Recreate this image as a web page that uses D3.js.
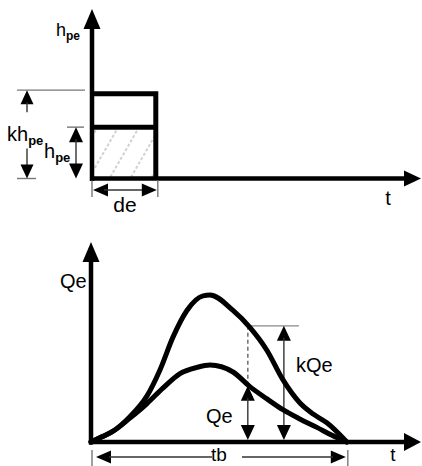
<!DOCTYPE html>
<html><head><meta charset="utf-8">
<script src="https://cdn.jsdelivr.net/npm/d3@7/dist/d3.min.js"></script>
<style>html,body{margin:0;padding:0;background:#fff;}svg{display:block;}text{font-family:"Liberation Sans",Arial,sans-serif;fill:#000;}</style>
</head><body>
<script>
// ---- Data ----
// Top panel: effective rainfall hyetograph (units: de = 1, hpe = 1)
const rainDuration = 1;      // de
const rainDepth = 1;         // hpe
const rainFactor = 1.72;     // k
const topTimeMax = 5;        // axis extent
const topDepthMax = 3.3;

// Bottom panel: hydrographs (t in units where tb = 10, Q where Qe peak = 1)
const hydroT  = [0, 0.45, 0.86, 1.52, 2.19, 2.81, 3.48, 4.14, 4.65, 5.55, 6.21, 6.88, 7.5, 8.16, 8.83, 9.4, 10];
const qeVals  = [0, 0.07, 0.14, 0.31, 0.50, 0.70, 0.89, 0.97, 1.00, 0.91, 0.72, 0.56, 0.42, 0.30, 0.19, 0.09, 0];
const kqeT    = [0, 0.45, 0.86, 1.52, 2.19, 2.7, 3.2, 3.75, 4.38, 4.65, 5.55, 6.21, 6.88, 7.5, 8.16, 8.7, 9.22, 10];
const kqeVals = [0, 0.07, 0.14, 0.33, 0.60, 0.94, 1.36, 1.71, 1.90, 1.91, 1.71, 1.49, 1.19, 0.81, 0.51, 0.36, 0.25, 0];
const tbVal = 10;
const markT = 6.13;          // where Qe and k*Qe are marked (dashed)
const kArrowT = 7.54;
const kQeLevel = 1.51;
const qeAtMark = 0.73;
const botTimeMax = 12.9;
const botQMax = 2.6;

const labels = {hpe:"h", sub:"pe", khpe:"kh", de:"de", t:"t", qe:"Qe", kqe:"kQe", tb:"tb"};

// ---- Drawing ----
const W = 422, H = 466;
const svg = d3.select("body").append("svg").attr("width", W).attr("height", H);
const defs = svg.append("defs");
const pat = defs.append("pattern").attr("id","hatch").attr("patternUnits","userSpaceOnUse")
  .attr("width",18).attr("height",30).attr("patternTransform","rotate(30)");
pat.append("line").attr("x1",4).attr("y1",0).attr("x2",4).attr("y2",30)
  .attr("stroke","#9a9a9a").attr("stroke-width",0.9).attr("stroke-dasharray","3,2");

// scales
const xT = d3.scaleLinear().domain([0, topTimeMax]).range([92, 421]);
const yT = d3.scaleLinear().domain([0, topDepthMax]).range([178.5, 9]);
const xB = d3.scaleLinear().domain([0, botTimeMax]).range([91, 421]);
const yB = d3.scaleLinear().domain([0, botQMax]).range([442, 242]);

function arrowHead(g, x, y, dir, len, wid) {
  let pts;
  if (dir === "up") pts = [[x,y],[x-wid/2,y+len],[x+wid/2,y+len]];
  if (dir === "down") pts = [[x,y],[x-wid/2,y-len],[x+wid/2,y-len]];
  if (dir === "left") pts = [[x,y],[x+len,y-wid/2],[x+len,y+wid/2]];
  if (dir === "right") pts = [[x,y],[x-len,y-wid/2],[x-len,y+wid/2]];
  g.append("path").attr("d", d3.line()(pts) + "Z").attr("fill","#000");
}
function thin(g, x1, y1, x2, y2, col, w, dash) {
  const l = g.append("line").attr("x1",x1).attr("y1",y1).attr("x2",x2).attr("y2",y2)
    .attr("stroke", col || "#111").attr("stroke-width", w || 1.4);
  if (dash) l.attr("stroke-dasharray", dash);
  return l;
}
function subLabel(g, x, y, main, sub, size, subSize, anchor) {
  const t = g.append("text").attr("x",x).attr("y",y).attr("font-size",size);
  if (anchor) t.attr("text-anchor", anchor);
  t.append("tspan").text(main);
  t.append("tspan").attr("dy",4).attr("font-size",subSize).attr("font-weight","bold").text(sub);
}

// ===== TOP PANEL =====
const gTop = svg.append("g");
const x0 = xT(0), y0 = yT(0);
gTop.append("rect").attr("x", x0).attr("y", yT(rainDepth)).attr("width", xT(rainDuration)-x0)
  .attr("height", y0 - yT(rainDepth)).attr("fill","url(#hatch)");
const kTopY = yT(rainFactor) + 3.5;
gTop.append("path").attr("d", d3.line()([[x0, kTopY],[xT(rainDuration)-2, kTopY],[xT(rainDuration)-2, y0]]))
  .attr("fill","none").attr("stroke","#000").attr("stroke-width",5);
gTop.append("line").attr("x1",x0).attr("x2",xT(rainDuration)-2).attr("y1",yT(rainDepth)).attr("y2",yT(rainDepth))
  .attr("stroke","#000").attr("stroke-width",5);
gTop.append("line").attr("x1",x0).attr("x2",x0).attr("y1",y0+2.5).attr("y2",yT(topDepthMax)+16)
  .attr("stroke","#000").attr("stroke-width",4.5);
arrowHead(gTop, x0, yT(topDepthMax), "up", 20, 17);
gTop.append("line").attr("x1",x0-2).attr("x2",xT(topTimeMax)-16).attr("y1",y0).attr("y2",y0)
  .attr("stroke","#000").attr("stroke-width",4.5);
arrowHead(gTop, xT(topTimeMax), y0, "right", 17, 16);

// k*hpe dimension
const kx = 27;
thin(gTop, 17, yT(rainFactor), 85, yT(rainFactor), "#777", 1.4);
thin(gTop, 17, y0, 36, y0, "#777", 1.4);
arrowHead(gTop, kx, yT(rainFactor), "up", 14, 13);
thin(gTop, kx, yT(rainFactor)+12, kx, yT(rainFactor)+22, "#333", 1.4);
thin(gTop, kx, y0-30, kx, y0-12, "#333", 1.4);
arrowHead(gTop, kx, y0, "down", 14, 13);
subLabel(gTop, 7, 141, labels.khpe, labels.sub, 20, 13);

// hpe dimension
const hx = 76;
thin(gTop, 67, yT(rainDepth), 84, yT(rainDepth), "#777", 1.4);
arrowHead(gTop, hx, yT(rainDepth), "up", 15, 14);
thin(gTop, hx, yT(rainDepth)+12, hx, y0-12, "#333", 1.4);
arrowHead(gTop, hx, y0, "down", 15, 14);
subLabel(gTop, 44, 158, labels.hpe, labels.sub, 20, 13);

// de dimension
const deY = 190;
thin(gTop, x0, y0+2, x0, 197, "#777", 1.4);
thin(gTop, xT(rainDuration), y0+2, xT(rainDuration), 197, "#777", 1.4);
arrowHead(gTop, x0+1, deY, "left", 15, 13);
thin(gTop, x0+12, deY, xT(rainDuration)-12, deY, "#333", 1.4);
arrowHead(gTop, xT(rainDuration)-1, deY, "right", 15, 13);
gTop.append("text").attr("x", (x0+xT(rainDuration))/2).attr("y",212).attr("text-anchor","middle")
  .attr("font-size",21).text(labels.de);

subLabel(gTop, 56, 36, labels.hpe, labels.sub, 18, 12);
gTop.append("text").attr("x",388).attr("y",205).attr("text-anchor","middle").attr("font-size",20).text(labels.t);

// ===== BOTTOM PANEL =====
const gBot = svg.append("g");
const bx0 = xB(0), by0 = yB(0);
const curveLine = d3.line().x(d => xB(d[0])).y(d => yB(d[1])).curve(d3.curveMonotoneX);
const qeData = hydroT.map((t,i) => [t, qeVals[i]]);
const kqeData = kqeT.map((t,i) => [t, kqeVals[i]]);

thin(gBot, xB(markT), yB(kQeLevel), xB(markT), yB(qeAtMark)-2, "#777", 1.6, "4,3");
thin(gBot, xB(markT), yB(kQeLevel), xB(kArrowT)+15, yB(kQeLevel), "#888", 1.4);
arrowHead(gBot, xB(kArrowT), yB(kQeLevel), "up", 15, 14);
thin(gBot, xB(kArrowT), yB(kQeLevel)+12, xB(kArrowT), by0-12, "#333", 1.4);
arrowHead(gBot, xB(kArrowT), by0-2, "down", 15, 14);
arrowHead(gBot, xB(markT), yB(qeAtMark), "up", 15, 14);
thin(gBot, xB(markT), yB(qeAtMark)+12, xB(markT), by0-12, "#333", 1.4);
arrowHead(gBot, xB(markT), by0-2, "down", 15, 14);

gBot.append("path").attr("d", curveLine(qeData)).attr("fill","none").attr("stroke","#000").attr("stroke-width",5).attr("stroke-linecap","round");
gBot.append("path").attr("d", curveLine(kqeData)).attr("fill","none").attr("stroke","#000").attr("stroke-width",5).attr("stroke-linecap","round");

gBot.append("line").attr("x1",bx0).attr("x2",bx0).attr("y1",by0+2.5).attr("y2",yB(botQMax)+16)
  .attr("stroke","#000").attr("stroke-width",4.5);
arrowHead(gBot, bx0, yB(botQMax), "up", 20, 17);
gBot.append("line").attr("x1",bx0-2).attr("x2",xB(botTimeMax)-16).attr("y1",by0).attr("y2",by0)
  .attr("stroke","#000").attr("stroke-width",4.5);
arrowHead(gBot, xB(botTimeMax), by0, "right", 17, 18);

const tby = 457;
thin(gBot, bx0+1, 450, bx0+1, 466, "#777", 1.4);
thin(gBot, xB(tbVal)+1, 450, xB(tbVal)+1, 466, "#777", 1.4);
arrowHead(gBot, bx0+5, tby, "left", 15, 13);
arrowHead(gBot, xB(tbVal)-1, tby, "right", 15, 13);
thin(gBot, bx0+18, tby, 212, tby, "#333", 1.4);
thin(gBot, 242, tby, xB(tbVal)-14, tby, "#333", 1.4);
gBot.append("text").attr("x",(bx0+xB(tbVal))/2).attr("y",461).attr("text-anchor","middle").attr("font-size",19).text(labels.tb);

gBot.append("text").attr("x",60).attr("y",288).attr("font-size",20).text(labels.qe);
gBot.append("text").attr("x",296).attr("y",372).attr("font-size",20).text(labels.kqe);
gBot.append("text").attr("x",206).attr("y",423).attr("font-size",20).text(labels.qe);
gBot.append("text").attr("x",393).attr("y",461).attr("text-anchor","middle").attr("font-size",19).text(labels.t);
</script>
</body></html>
